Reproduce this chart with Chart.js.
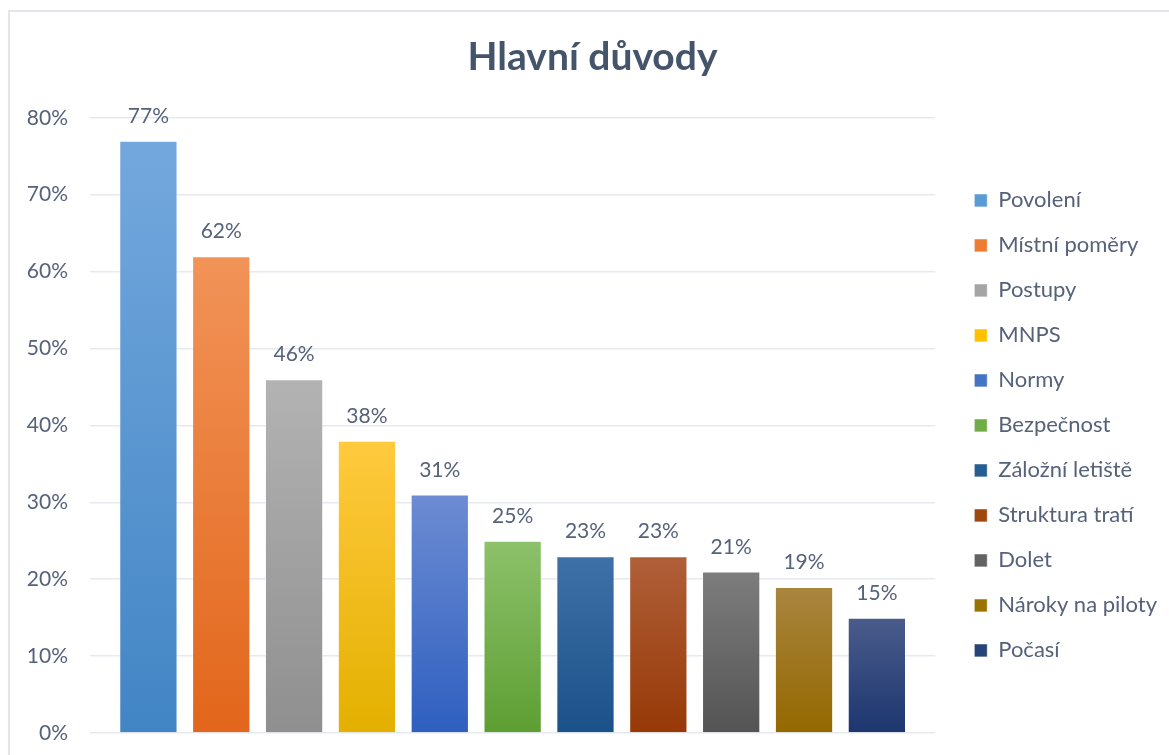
<!DOCTYPE html>
<html>
<head>
<meta charset="utf-8">
<script src="https://cdn.jsdelivr.net/npm/chart.js@4.4.1/dist/chart.umd.min.js"></script>
<style>
  body { margin: 0; background: #fff; overflow: hidden; }
  #frame {
    position: absolute; left: 8px; top: 10px;
    width: 1161px; height: 745px;
    border-top: 2px solid #E2E6EC; border-left: 2px solid #E2E6EC;
  }
  #chart { display: block; }
</style>
</head>
<body>
<div id="frame"><canvas id="chart" width="1159" height="743"></canvas></div>
<script>
// data
const categories = ['Povolení', 'Místní poměry', 'Postupy', 'MNPS', 'Normy', 'Bezpečnost',
    'Záložní letiště', 'Struktura tratí', 'Dolet', 'Nároky na piloty', 'Počasí'];
const values = [77, 62, 46, 38, 31, 25, 23, 23, 21, 19, 15];
const yTicks = [0, 10, 20, 30, 40, 50, 60, 70, 80];

// gradient ends for each bar (top -> bottom), plus the legend swatch colour
const colorsTop = ['#73A8DD', '#F29358', '#B3B3B3', '#FFCA3E', '#6D8CD3', '#8DC16B',
    '#3E71A7', '#B05F39', '#7D7D7D', '#A9853F', '#4B5C8C'];
const colorsBottom = ['#4285C5', '#E2661B', '#8F8F8F', '#E3B000', '#2E5FBF', '#5D9E32',
    '#1B5189', '#973907', '#545454', '#946800', '#1C366F'];
const colorsKey = ['#5A9BD5', '#ED7D31', '#A5A5A5', '#FFC000', '#4472C4', '#70AD47',
    '#255E91', '#9E480E', '#636363', '#997300', '#264478'];

const textColor = '#56627A';
const fontFamily = 'Lato, "Liberation Sans", sans-serif';

// vertical gradient per bar, spanning the bar itself
function barFill(i) {
    return function (ctx) {
        const chart = ctx.chart;
        if (!chart.chartArea || ctx.type !== 'data') return colorsBottom[i];
        const y = chart.scales.y;
        const top = y.getPixelForValue(ctx.raw);
        const bottom = y.getPixelForValue(0);
        if (!isFinite(top) || !isFinite(bottom) || top === bottom) return colorsBottom[i];
        const g = chart.ctx.createLinearGradient(0, top, 0, bottom);
        g.addColorStop(0, colorsTop[i]);
        g.addColorStop(1, colorsBottom[i]);
        return g;
    };
}

// value labels above each bar
const valueLabels = {
    id: 'valueLabels',
    afterDatasetsDraw(chart) {
        const ctx = chart.ctx;
        ctx.save();
        ctx.font = '21px ' + fontFamily;
        ctx.fillStyle = textColor;
        ctx.textAlign = 'center';
        ctx.textBaseline = 'alphabetic';
        chart.data.datasets.forEach((ds, i) => {
            const bar = chart.getDatasetMeta(i).data[0];
            ctx.fillText(ds.data[0] + '%', bar.x, bar.y - 18);
        });
        ctx.restore();
    }
};

// legend: small gap after the plot, centred on the plot vertically;
// title nudged right a little
const boxShift = {
    id: 'boxShift',
    afterLayout(chart) {
        const lg = chart.legend;
        if (lg) {
            const dx = chart.chartArea.right + 16 - lg.left;
            lg.left += dx;
            lg.right += dx;
            const dy = (chart.chartArea.top + chart.chartArea.bottom) / 2 - (lg.top + lg.bottom) / 2;
            lg.top += dy;
            lg.bottom += dy;
        }
        const t = chart.titleBlock;
        if (t) {
            t.left += 7;
            t.right += 7;
        }
    }
};

const datasets = categories.map((name, i) => ({
    label: name,
    data: [values[i]],
    backgroundColor: barFill(i),
    borderColor: 'rgba(255,255,255,0.45)',
    borderWidth: 1,
    categoryPercentage: 0.948,
    barPercentage: 0.8
}));

new Chart(document.getElementById('chart'), {
    type: 'bar',
    data: { labels: [''], datasets: datasets },
    plugins: [valueLabels, boxShift],
    options: {
        responsive: false,
        animation: false,
        layout: { padding: { left: 10, right: 18, top: 0, bottom: 22 } },
        plugins: {
            title: {
                display: true,
                text: 'Hlavní důvody',
                color: '#44546A',
                font: { family: fontFamily, size: 39, weight: 'bold' },
                padding: { top: 22, bottom: 37 }
            },
            legend: {
                position: 'right',
                labels: {
                    color: textColor,
                    font: { family: fontFamily, size: 22 },
                    boxWidth: 13,
                    boxHeight: 13,
                    padding: 23,
                    generateLabels(chart) {
                        return chart.data.datasets.map((ds, i) => ({
                            text: ds.label,
                            fillStyle: colorsKey[i],
                            strokeStyle: 'rgba(255,255,255,0.6)',
                            lineWidth: 1,
                            fontColor: textColor,
                            datasetIndex: i,
                            hidden: false
                        }));
                    }
                }
            },
            tooltip: { enabled: false }
        },
        scales: {
            x: { display: false },
            y: {
                min: 0,
                max: 80,
                afterBuildTicks(scale) {
                    scale.ticks = yTicks.map(v => ({ value: v }));
                },
                afterFit(scale) {
                    scale.width = 70;
                    scale.paddingTop = 0;
                    scale.paddingBottom = 0;
                },
                border: { display: false },
                grid: { color: '#E6E9EF', lineWidth: 1.5, drawTicks: false },
                ticks: {
                    color: textColor,
                    padding: 22,
                    font: { family: fontFamily, size: 21 },
                    callback: v => v + '%'
                }
            }
        }
    }
});
</script>
</body>
</html>
